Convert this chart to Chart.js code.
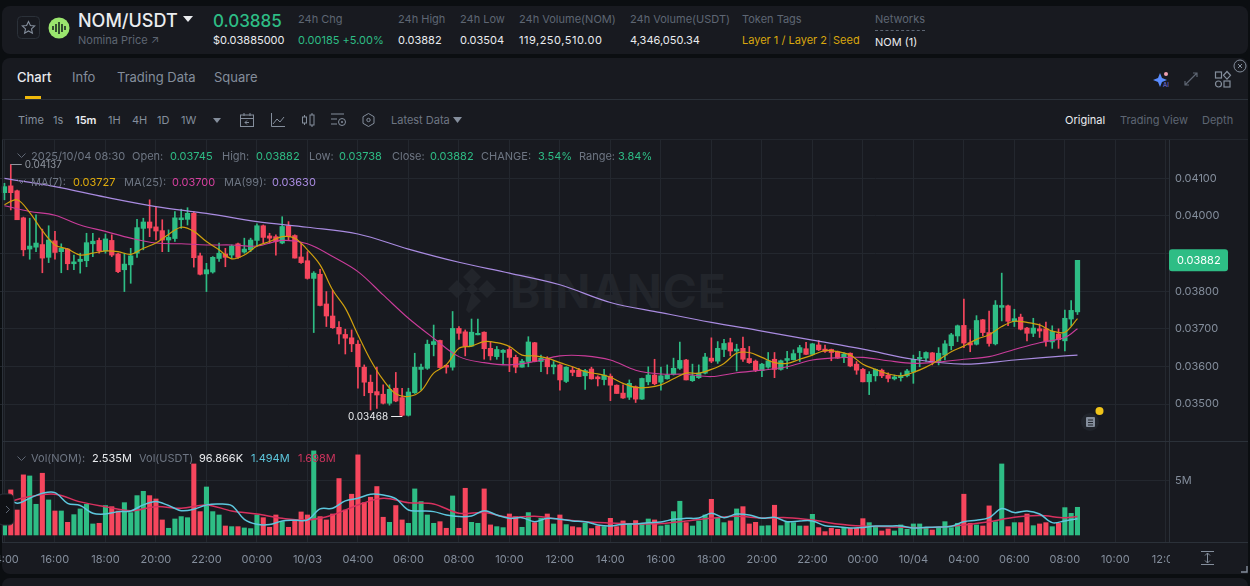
<!DOCTYPE html>
<html>
<head>
<meta charset="utf-8">
<title>NOM/USDT</title>
<script src="https://cdn.jsdelivr.net/npm/chart.js@4/dist/chart.umd.min.js"></script>
<style>
html, body { margin: 0; padding: 0; background: #0b0e11; width: 1250px; height: 586px; overflow: hidden; font-family: Inter, sans-serif; }
.panel { position: absolute; left: 2px; width: 1246px; background: #181a20; border-radius: 8px; }
.t { position: absolute; white-space: nowrap; font-size: 11px; line-height: 14px; color: #eaecef; }
.dim { color: #5e6673; }
.gray { color: #848e9c; }
.up { color: #2ebd85; }
.gold { color: #d8a70e; }
.line { position: absolute; background: #2b3139; }
svg { position: absolute; overflow: visible; }
#priceChart, #volChart { position: absolute; left: -5px; }
#priceChart { top: 140px; }
#volChart { top: 442px; }
#watermark { position: absolute; left: 510px; top: 264px; font-size: 46px; line-height: 54px; font-weight: 700; color: #22252b; letter-spacing: 1px; }
</style>
</head>
<body>
<div class="panel" style="top:6px;height:48px"></div>
<div class="panel" style="top:58px;height:516px"></div>
<div class="panel" style="top:578px;height:20px"></div>

<svg style="left:445px;top:268px" width="56" height="46" viewBox="0 0 56 46" fill="#22252b">
  <path d="M27 0l9 9-9 9-9-9zM27 24l9 9-12 12-3-3zM12 12l9 9-9 9-9-9zM42 12l9 9-9 9-9-9zM27 15l6 6-6 6-6-6z"/>
</svg>
<div id="watermark">BINANCE</div>

<canvas id="priceChart" width="1255" height="302"></canvas>
<canvas id="volChart" width="1255" height="133"></canvas>

<!-- right column cover so the last time label gets cut like in the app -->
<div style="position:absolute;left:1170px;top:543px;width:78px;height:31px;background:#181a20"></div>

<div class="line" style="left:2px;top:99px;width:1246px;height:1px"></div>
<div class="line" style="left:2px;top:139px;width:1246px;height:1px;background:#23272e"></div>
<div class="line" style="left:2px;top:441px;width:1246px;height:1px"></div>
<div class="line" style="left:2px;top:542px;width:1246px;height:1px"></div>
<div class="line" style="left:2px;top:140px;width:1px;height:402px"></div>

<!-- top bar -->
<svg style="left:17px;top:16px" width="23" height="23"><rect x="0.5" y="0.5" width="22" height="22" rx="4" fill="none" stroke="#2b3139"/><path d="M11.5 5.5l1.9 4 4.3.5-3.2 2.9.9 4.3-3.9-2.2-3.9 2.2.9-4.3-3.2-2.9 4.3-.5z" fill="none" stroke="#848e9c" stroke-width="1.1"/></svg>
<svg style="left:48px;top:17px" width="22" height="22"><circle cx="11" cy="11" r="10.5" fill="#9ae66e"/><path d="M5 9v4M8 7v8M11 5v12M14 7v8M17 9v4" stroke="#1a2a22" stroke-width="1.6"/></svg>
<div class="t" style="left:78px;top:10px;font-size:18px;line-height:22px;font-weight:500">NOM/USDT</div>
<svg style="left:183px;top:16px" width="10" height="6"><path d="M0 0h10L5 6z" fill="#eaecef"/></svg>
<div class="t dim" style="left:78px;top:33px">Nomina Price ↗</div>
<div class="t up" style="left:213px;top:10px;font-size:17px;line-height:22px;font-weight:500">0.03885</div>
<div class="t" style="left:213px;top:33px">$0.03885000</div>
<div class="t dim" style="left:298px;top:12px">24h Chg</div>
<div class="t up" style="left:298px;top:33px">0.00185 +5.00%</div>
<div class="t dim" style="left:398px;top:12px">24h High</div>
<div class="t" style="left:398px;top:33px">0.03882</div>
<div class="t dim" style="left:460px;top:12px">24h Low</div>
<div class="t" style="left:460px;top:33px">0.03504</div>
<div class="t dim" style="left:519px;top:12px">24h Volume(NOM)</div>
<div class="t" style="left:519px;top:33px;letter-spacing:0.5px">119,250,510.00</div>
<div class="t dim" style="left:630px;top:12px">24h Volume(USDT)</div>
<div class="t" style="left:630px;top:33px">4,346,050.34</div>
<div class="t dim" style="left:742px;top:12px">Token Tags</div>
<div class="t gold" style="left:742px;top:33px">Layer 1 / Layer 2</div>
<div class="t dim" style="left:828px;top:33px;color:#3a404a">|</div>
<div class="t gold" style="left:833px;top:33px">Seed</div>
<div class="t dim" style="left:875px;top:12px;border-bottom:1px dashed #5e6673;padding-bottom:4px">Networks</div>
<div class="t" style="left:875px;top:35px">NOM (1)</div>

<!-- tabs -->
<div class="t" style="left:17px;top:70px;font-size:13px;font-weight:500">Chart</div>
<div class="t gray" style="left:72px;top:70px;font-size:13px">Info</div>
<div class="t gray" style="left:117px;top:70px;font-size:13px">Trading Data</div>
<div class="t gray" style="left:214px;top:70px;font-size:13px">Square</div>
<div style="position:absolute;left:25px;top:96px;width:16px;height:3px;background:#f0b90b"></div>
<svg style="left:1153px;top:71px" width="18" height="18"><path d="M7 2l2 5 5 2-5 2-2 5-2-5-5-2 5-2z" fill="#5a8cff"/><circle cx="13" cy="3" r="2" fill="#f0a0b0"/><text x="10" y="16" font-size="6" fill="#7a7af0" font-family="Inter">AI</text></svg>
<svg style="left:1184px;top:72px" width="14" height="14"><path d="M1 13L13 1M9 1h4v4M1 9v4h4" fill="none" stroke="#5e6673" stroke-width="1.2"/></svg>
<svg style="left:1215px;top:71px" width="16" height="17"><rect x="0.5" y="1" width="6" height="6" fill="none" stroke="#848e9c" stroke-width="1.2"/><path d="M12 0.5l3.5 3.8-3.5 3.8-3.5-3.8z" fill="none" stroke="#848e9c" stroke-width="1.2"/><circle cx="3.5" cy="13" r="3" fill="none" stroke="#848e9c" stroke-width="1.2"/><rect x="9" y="10" width="6" height="6" fill="none" stroke="#848e9c" stroke-width="1.2"/></svg>
<svg style="left:1233px;top:59px" width="14" height="14"><circle cx="7" cy="7" r="6" fill="#181a20" stroke="#848e9c"/><path d="M5 5l4 4M9 5l-4 4" stroke="#848e9c"/></svg>

<!-- toolbar -->
<div class="t gray" style="left:18px;top:113px">Time</div>
<div class="t gray" style="left:53px;top:113px">1s</div>
<div class="t" style="left:75px;top:113px;font-weight:600">15m</div>
<div class="t gray" style="left:108px;top:113px">1H</div>
<div class="t gray" style="left:132px;top:113px">4H</div>
<div class="t gray" style="left:157px;top:113px">1D</div>
<div class="t gray" style="left:181px;top:113px">1W</div>
<svg style="left:213px;top:118px" width="8" height="5"><path d="M0 0h8L4 5z" fill="#848e9c"/></svg>
<svg style="left:240px;top:113px" width="14" height="14"><rect x="0.5" y="2" width="13" height="11.5" fill="none" stroke="#848e9c"/><path d="M0 5.5h14M4 0v3M10 0v3M9 9.5H5M7 7.5L5 9.5l2 2" fill="none" stroke="#848e9c"/></svg>
<svg style="left:271px;top:113px" width="14" height="14"><path d="M0.5 0v13.5H14M2 11l4-5 3 3 4-5" fill="none" stroke="#848e9c"/></svg>
<svg style="left:302px;top:113px" width="13" height="14"><rect x="0.5" y="4" width="4" height="6" fill="none" stroke="#848e9c"/><rect x="8" y="2" width="4" height="10" fill="none" stroke="#848e9c"/><path d="M2.5 2v2M2.5 10v2M10 0v2M10 12v2" stroke="#848e9c"/></svg>
<svg style="left:331px;top:113px" width="15" height="14"><path d="M0 1h13M0 6h6M0 11h6" stroke="#848e9c"/><circle cx="11" cy="9" r="3.5" fill="none" stroke="#848e9c"/><circle cx="11" cy="9" r="1" fill="#848e9c"/></svg>
<svg style="left:362px;top:113px" width="13" height="14"><path d="M6.5 0.5l5.5 3.2v6.6l-5.5 3.2L1 10.300V3.700z" fill="none" stroke="#848e9c"/><circle cx="6.500" cy="7" r="1.700" fill="none" stroke="#848e9c"/></svg>
<div class="t gray" style="left:391px;top:113px;color:#6e7683">Latest Data</div>
<svg style="left:453px;top:117px" width="9" height="6"><path d="M0 0h9L4.500 6z" fill="#848e9c"/></svg>
<div class="t" style="left:1065px;top:113px">Original</div>
<div class="t dim" style="left:1120px;top:113px">Trading View</div>
<div class="t dim" style="left:1202px;top:113px">Depth</div>

<!-- price legend -->
<svg style="left:17px;top:153px" width="9" height="5"><path d="M0.500 0.500L4.500 4.500 8.500 0.500" fill="none" stroke="#5e6673"/></svg>
<div class="t dim" style="left:31px;top:149px;color:#6e7683">2025/10/04 08:30</div>
<div class="t dim" style="left:132px;top:149px;color:#6e7683">Open:</div>
<div class="t up" style="left:170px;top:149px">0.03745</div>
<div class="t dim" style="left:222px;top:149px;color:#6e7683">High:</div>
<div class="t up" style="left:256px;top:149px">0.03882</div>
<div class="t dim" style="left:309px;top:149px;color:#6e7683">Low:</div>
<div class="t up" style="left:339px;top:149px">0.03738</div>
<div class="t dim" style="left:392px;top:149px;color:#6e7683">Close:</div>
<div class="t up" style="left:430px;top:149px">0.03882</div>
<div class="t dim" style="left:481px;top:149px;color:#6e7683">CHANGE:</div>
<div class="t up" style="left:538px;top:149px">3.54%</div>
<div class="t dim" style="left:579px;top:149px;color:#6e7683">Range:</div>
<div class="t up" style="left:618px;top:149px">3.84%</div>
<svg style="left:17px;top:179px" width="9" height="5"><path d="M0.500 0.500L4.500 4.500 8.500 0.500" fill="none" stroke="#5e6673"/></svg>
<div class="t dim" style="left:31px;top:175px;color:#6e7683">MA(7):</div>
<div class="t" style="left:73px;top:175px;color:#e0ac0c">0.03727</div>
<div class="t dim" style="left:124px;top:175px;color:#6e7683">MA(25):</div>
<div class="t" style="left:172px;top:175px;color:#d6409f">0.03700</div>
<div class="t dim" style="left:224px;top:175px;color:#6e7683">MA(99):</div>
<div class="t" style="left:272px;top:175px;color:#a98be0">0.03630</div>

<!-- volume legend -->
<svg style="left:17px;top:456px" width="9" height="5"><path d="M0.500 0.500L4.500 4.500 8.500 0.500" fill="none" stroke="#5e6673"/></svg>
<div class="t dim" style="left:31px;top:451px;color:#6e7683">Vol(NOM):</div>
<div class="t" style="left:92px;top:451px">2.535M</div>
<div class="t dim" style="left:139px;top:451px;color:#6e7683">Vol(USDT)</div>
<div class="t" style="left:199px;top:451px">96.866K</div>
<div class="t" style="left:251px;top:451px;color:#5dc7dd">1.494M</div>
<div class="t" style="left:298px;top:451px;color:#c9335c">1.698M</div>

<!-- small widgets on the panes -->
<svg style="left:1082px;top:405px" width="24" height="26"><circle cx="8" cy="17" r="9" fill="#20242b"/><rect x="4" y="12" width="9" height="10" rx="1" fill="#848e9c"/><path d="M6 15h5M6 17.500h5M6 20h5" stroke="#20242b"/><circle cx="17.500" cy="6" r="4" fill="#f0c419"/></svg>
<svg style="left:-2px;top:494px" width="17" height="32"><rect x="0" y="0" width="16" height="31" rx="5" fill="#0f1115" stroke="#2b3139"/><path d="M8 12l3.500 3.500L8 19" fill="none" stroke="#5e6673"/></svg>
<svg style="left:1201px;top:551px" width="14" height="14"><path d="M0 0.500h13M0 13.500h13M6.500 2v10M4 4.500l2.500-2.500 2.500 2.500M4 9.500l2.500 2.500 2.500-2.500" fill="none" stroke="#848e9c"/></svg>
<svg style="left:1241px;top:566px" width="7" height="7"><path d="M6 0v6H0" fill="none" stroke="#848e9c" stroke-width="1.400"/></svg>

<script>
// every 15m candle from 10/02 14:00 to 10/04 08:30
const openPrices = [
  0.04062,0.04080,0.04067,0.03995,0.03912,0.03917,0.03924,0.03890,0.03934,0.03905,
  0.03912,0.03873,0.03879,0.03881,0.03926,0.03935,0.03907,0.03935,0.03899,0.03857,
  0.03870,0.03901,0.03967,0.03984,0.03971,0.03961,0.03936,0.03940,0.03990,0.03991,
  0.04007,0.03894,0.03846,0.03851,0.03887,0.03899,0.03896,0.03926,0.03904,0.03910,
  0.03935,0.03974,0.03947,0.03945,0.03928,0.03974,0.03948,0.03891,0.03881,0.03834,
  0.03845,0.03766,0.03734,0.03704,0.03685,0.03676,0.03659,0.03598,0.03558,0.03533,
  0.03526,0.03502,0.03542,0.03517,0.03470,0.03530,0.03592,0.03595,0.03658,0.03669,
  0.03603,0.03598,0.03701,0.03692,0.03654,0.03684,0.03691,0.03648,0.03626,0.03637,
  0.03645,0.03624,0.03598,0.03613,0.03663,0.03613,0.03619,0.03599,0.03604,0.03560,
  0.03590,0.03590,0.03575,0.03593,0.03572,0.03565,0.03574,0.03550,0.03529,0.03518,
  0.03546,0.03513,0.03559,0.03577,0.03558,0.03567,0.03579,0.03595,0.03617,0.03562,
  0.03570,0.03582,0.03622,0.03614,0.03645,0.03663,0.03641,0.03648,0.03621,0.03614,
  0.03589,0.03598,0.03619,0.03592,0.03616,0.03618,0.03637,0.03647,0.03632,0.03657,
  0.03646,0.03645,0.03639,0.03624,0.03635,0.03606,0.03592,0.03559,0.03575,0.03590,
  0.03577,0.03567,0.03570,0.03575,0.03585,0.03620,0.03622,0.03636,0.03614,0.03630,
  0.03655,0.03681,0.03709,0.03663,0.03659,0.03724,0.03690,0.03660,0.03757,0.03761,
  0.03720,0.03731,0.03702,0.03688,0.03700,0.03700,0.03665,0.03686,0.03668,0.03726,0.03745
];
const highPrices = [
  0.04087,0.04137,0.04069,0.03997,0.03994,0.04003,0.03965,0.03974,0.03959,0.03926,
  0.03914,0.03896,0.03901,0.03954,0.03954,0.03941,0.03952,0.03950,0.03901,0.03901,
  0.03914,0.03991,0.03994,0.04043,0.04025,0.03990,0.03963,0.04012,0.04018,0.04022,
  0.04012,0.03901,0.03874,0.03892,0.03928,0.03914,0.03923,0.03928,0.03941,0.03941,
  0.03979,0.03976,0.03954,0.03950,0.03998,0.03985,0.03950,0.03928,0.03905,0.03852,
  0.03858,0.03799,0.03802,0.03719,0.03699,0.03697,0.03669,0.03604,0.03577,0.03598,
  0.03551,0.03551,0.03584,0.03542,0.03542,0.03635,0.03606,0.03670,0.03710,0.03670,
  0.03604,0.03746,0.03706,0.03697,0.03726,0.03726,0.03692,0.03666,0.03653,0.03645,
  0.03654,0.03630,0.03619,0.03679,0.03664,0.03630,0.03626,0.03613,0.03606,0.03599,
  0.03599,0.03595,0.03592,0.03598,0.03575,0.03592,0.03580,0.03551,0.03551,0.03564,
  0.03548,0.03569,0.03599,0.03619,0.03598,0.03604,0.03622,0.03665,0.03619,0.03606,
  0.03604,0.03635,0.03676,0.03666,0.03672,0.03675,0.03659,0.03678,0.03653,0.03617,
  0.03608,0.03637,0.03637,0.03617,0.03640,0.03644,0.03656,0.03664,0.03661,0.03669,
  0.03657,0.03646,0.03641,0.03637,0.03636,0.03613,0.03595,0.03586,0.03593,0.03593,
  0.03583,0.03577,0.03583,0.03592,0.03630,0.03640,0.03639,0.03637,0.03650,0.03669,
  0.03688,0.03710,0.03779,0.03697,0.03735,0.03725,0.03747,0.03775,0.03848,0.03763,
  0.03752,0.03739,0.03704,0.03728,0.03713,0.03718,0.03708,0.03700,0.03750,0.03775,0.03882
];
const lowPrices = [
  0.04043,0.04016,0.03990,0.03894,0.03885,0.03905,0.03849,0.03876,0.03885,0.03849,
  0.03857,0.03857,0.03848,0.03865,0.03892,0.03901,0.03901,0.03892,0.03849,0.03799,
  0.03821,0.03890,0.03910,0.03945,0.03936,0.03905,0.03905,0.03932,0.03967,0.03976,
  0.03864,0.03843,0.03799,0.03848,0.03879,0.03865,0.03888,0.03887,0.03901,0.03905,
  0.03919,0.03928,0.03928,0.03896,0.03926,0.03936,0.03888,0.03874,0.03832,0.03690,
  0.03761,0.03706,0.03701,0.03660,0.03633,0.03639,0.03542,0.03522,0.03484,0.03488,
  0.03500,0.03497,0.03506,0.03468,0.03468,0.03528,0.03537,0.03592,0.03628,0.03595,
  0.03582,0.03590,0.03672,0.03628,0.03653,0.03684,0.03619,0.03617,0.03619,0.03606,
  0.03586,0.03583,0.03598,0.03599,0.03612,0.03586,0.03580,0.03580,0.03537,0.03557,
  0.03575,0.03573,0.03539,0.03566,0.03548,0.03551,0.03509,0.03528,0.03515,0.03512,
  0.03504,0.03512,0.03551,0.03551,0.03537,0.03566,0.03577,0.03592,0.03564,0.03560,
  0.03568,0.03580,0.03610,0.03608,0.03626,0.03628,0.03588,0.03613,0.03608,0.03586,
  0.03573,0.03595,0.03570,0.03590,0.03594,0.03617,0.03613,0.03631,0.03630,0.03642,
  0.03637,0.03615,0.03621,0.03610,0.03599,0.03579,0.03559,0.03525,0.03561,0.03570,
  0.03559,0.03564,0.03561,0.03572,0.03555,0.03599,0.03613,0.03604,0.03604,0.03617,
  0.03644,0.03666,0.03650,0.03639,0.03657,0.03681,0.03654,0.03657,0.03721,0.03708,
  0.03706,0.03697,0.03668,0.03679,0.03677,0.03654,0.03648,0.03648,0.03641,0.03708,0.03738
];
const closePrices = [
  0.04078,0.04062,0.03990,0.03910,0.03920,0.03928,0.03888,0.03936,0.03903,0.03914,
  0.03873,0.03878,0.03885,0.03929,0.03933,0.03907,0.03939,0.03896,0.03852,0.03872,
  0.03894,0.03969,0.03984,0.03968,0.03960,0.03936,0.03943,0.03995,0.03995,0.04007,
  0.03889,0.03845,0.03857,0.03890,0.03901,0.03890,0.03920,0.03890,0.03912,0.03936,
  0.03974,0.03943,0.03941,0.03932,0.03972,0.03945,0.03888,0.03876,0.03834,0.03848,
  0.03762,0.03734,0.03703,0.03686,0.03675,0.03660,0.03599,0.03558,0.03530,0.03524,
  0.03502,0.03539,0.03508,0.03470,0.03532,0.03598,0.03598,0.03659,0.03666,0.03597,
  0.03598,0.03701,0.03688,0.03653,0.03691,0.03688,0.03647,0.03628,0.03645,0.03643,
  0.03624,0.03598,0.03614,0.03665,0.03613,0.03622,0.03599,0.03604,0.03564,0.03598,
  0.03584,0.03573,0.03589,0.03567,0.03567,0.03577,0.03550,0.03528,0.03516,0.03555,
  0.03513,0.03568,0.03577,0.03554,0.03575,0.03577,0.03595,0.03616,0.03564,0.03575,
  0.03582,0.03625,0.03614,0.03648,0.03661,0.03641,0.03646,0.03619,0.03610,0.03590,
  0.03606,0.03615,0.03592,0.03615,0.03621,0.03634,0.03650,0.03632,0.03660,0.03644,
  0.03640,0.03637,0.03622,0.03633,0.03601,0.03590,0.03559,0.03579,0.03592,0.03575,
  0.03568,0.03572,0.03575,0.03588,0.03619,0.03624,0.03637,0.03614,0.03635,0.03660,
  0.03684,0.03708,0.03662,0.03657,0.03722,0.03690,0.03661,0.03763,0.03762,0.03720,
  0.03727,0.03699,0.03688,0.03702,0.03694,0.03667,0.03693,0.03671,0.03728,0.03749,0.03882
];

// volume per candle, in millions
const volumes = [
  1.23,4.17,2.31,5.56,5.46,2.84,5.71,3.24,2.22,2.22,
  1.17,1.88,2.41,2.84,1.02,1.08,2.72,2.62,2.22,2.99,
  2.07,3.64,4.04,3.64,3.33,1.39,0.62,1.48,1.70,1.60,
  6.57,2.16,4.44,2.16,1.85,0.83,0.77,0.77,0.65,0.59,
  1.85,1.60,0.71,1.85,1.23,0.71,1.39,2.13,1.85,7.78,
  1.70,1.39,1.94,5.22,2.31,3.77,7.41,2.99,3.49,4.48,
  1.64,1.17,2.72,1.39,1.08,4.26,3.09,1.85,1.08,1.23,
  0.62,3.61,0.62,4.32,1.17,1.08,4.26,0.93,0.77,0.68,
  1.94,1.70,0.71,2.07,1.14,1.54,1.94,1.02,1.85,0.96,
  0.77,0.68,1.08,0.59,0.83,0.77,1.54,0.77,1.30,1.08,
  1.33,1.08,1.48,1.39,0.83,0.93,2.16,3.12,1.14,0.83,
  1.30,1.85,3.30,1.54,1.14,1.30,2.41,2.62,1.02,1.17,
  0.83,0.86,2.75,0.86,1.23,1.14,0.83,0.83,1.91,0.68,
  0.31,0.62,0.52,0.71,0.62,0.62,1.51,1.14,0.77,0.37,
  0.56,0.37,0.93,0.52,1.02,1.02,0.71,0.46,0.71,1.23,
  0.68,1.08,3.77,1.08,0.93,0.83,2.69,1.23,6.57,0.77,
  1.14,1.14,1.94,0.86,1.02,1.14,0.77,1.08,2.53,2.00,2.56
];

// moving averages, read every few candles (the last value is the last candle)
const ma7Step = 2;
const ma7Values = [
  0.04030,0.04043,0.04009,0.03961,0.03923,0.03912,0.03896,0.03901,0.03907,0.03905,
  0.03898,0.03914,0.03928,0.03951,0.03970,0.03959,0.03932,0.03910,0.03886,0.03896,
  0.03920,0.03932,0.03945,0.03941,0.03910,0.03870,0.03803,0.03755,0.03684,0.03617,
  0.03564,0.03527,0.03520,0.03535,0.03582,0.03604,0.03648,0.03654,0.03666,0.03663,
  0.03653,0.03630,0.03628,0.03622,0.03610,0.03599,0.03586,0.03580,0.03571,0.03555,
  0.03544,0.03544,0.03551,0.03567,0.03582,0.03582,0.03592,0.03608,0.03635,0.03637,
  0.03624,0.03610,0.03608,0.03619,0.03630,0.03642,0.03639,0.03630,0.03606,0.03592,
  0.03580,0.03575,0.03584,0.03598,0.03617,0.03639,0.03654,0.03672,0.03684,0.03706,
  0.03720,0.03717,0.03710,0.03694,0.03691,0.03727
];
const ma25Step = 4;
const ma25Values = [
  0.04027,0.04012,0.04002,0.03976,0.03959,0.03941,0.03928,0.03926,0.03923,0.03923,
  0.03920,0.03935,0.03926,0.03892,0.03852,0.03790,0.03728,0.03675,0.03626,0.03610,
  0.03604,0.03613,0.03628,0.03628,0.03617,0.03590,0.03580,0.03579,0.03573,0.03583,
  0.03590,0.03599,0.03617,0.03623,0.03624,0.03615,0.03608,0.03612,0.03619,0.03626,
  0.03645,0.03663,0.03677,0.03700
];
const ma99Step = 8;
const ma99Values = [
  0.04100,0.04078,0.04050,0.04025,0.04007,0.03985,0.03970,0.03952,0.03912,0.03877,
  0.03848,0.03817,0.03770,0.03743,0.03717,0.03694,0.03670,0.03646,0.03619,0.03606,
  0.03617,0.03628,0.03630
];
const volFastStep = 2;
const volFastValues = [
  3.61,2.93,3.40,3.86,3.92,2.93,2.72,2.01,1.94,2.16,
  2.22,2.78,3.09,2.72,2.25,2.38,2.78,2.87,2.72,1.45,
  0.99,0.96,1.30,1.36,1.39,2.41,2.47,3.15,3.40,3.77,
  3.70,3.36,2.31,2.22,2.16,1.85,1.70,1.76,2.25,1.85,
  1.54,1.60,1.23,1.54,1.45,1.30,1.23,0.93,0.83,0.99,
  1.02,1.14,1.20,1.45,1.54,1.57,2.01,1.60,1.94,1.85,
  1.54,1.64,1.23,1.30,1.30,0.86,0.77,0.65,0.68,0.83,
  0.83,0.83,0.65,0.71,0.74,0.80,1.23,1.36,1.60,2.44,
  2.07,2.22,1.94,1.14,1.30,1.49
];
const volSlowStep = 4;
const volSlowValues = [
  2.93,3.55,3.77,3.06,2.62,2.25,2.62,2.47,2.78,2.22,
  1.94,1.54,1.39,1.85,2.78,3.40,2.99,2.87,2.01,2.07,
  1.64,1.73,1.45,1.23,1.11,1.02,1.05,1.30,1.54,1.73,
  1.57,1.60,1.39,1.02,0.83,0.77,0.68,0.71,0.93,1.23,
  1.64,1.79,1.60,1.70
];

// axis labels, one every 8 slots (2 hours)
const timeTicks = ["14:00","16:00","18:00","20:00","22:00","00:00","10/03","04:00","06:00","08:00","10:00","12:00","14:00","16:00","18:00","20:00","22:00","00:00","10/04","04:00","06:00","08:00","10:00","12:00"];
const priceTicks = [0.035, 0.036, 0.037, 0.038, 0.039, 0.04, 0.041];
const volumeTicks = [5];

// pane ranges and layout
const PRICE_MIN = 0.03399, PRICE_MAX = 0.04202;
const VOL_MIN = -0.65, VOL_MAX = 8.6;
const SLOT_COUNT = 186;   // one empty slot before the first candle, empty ones after the last
const AXIS_WIDTH = 81;
const UP_COLOR = '#2ebd85', DOWN_COLOR = '#f6465d';
const GRID_COLOR = '#23272e', BORDER_COLOR = '#2b3139', TICK_COLOR = '#848e9c';

Chart.defaults.font.family = 'Inter, sans-serif';
Chart.defaults.font.size = 11;
Chart.defaults.animation = false;

const slotLabels = [];
for (let s = 0; s < SLOT_COUNT; s++) {
    slotLabels.push((s - 1) % 8 === 0 && timeTicks[(s - 1) / 8] ? timeTicks[(s - 1) / 8] : '');
}

const lastCandle = openPrices.length - 1;
const candleColors = openPrices.map((o, i) => closePrices[i] >= o ? UP_COLOR : DOWN_COLOR);

// candle index i sits in slot i + 1
function toSlots(values) {
    const out = new Array(SLOT_COUNT).fill(null);
    values.forEach((v, i) => { out[i + 1] = v; });
    return out;
}

function toSlotsEvery(values, step) {
    const out = new Array(SLOT_COUNT).fill(null);
    values.forEach((v, k) => { out[Math.min(k * step, lastCandle) + 1] = v; });
    return out;
}

function lineSet(label, values, step, color, width) {
    return {
        type: 'line',
        label: label,
        data: toSlotsEvery(values, step),
        borderColor: color,
        borderWidth: width,
        pointRadius: 0,
        spanGaps: true,
        tension: 0.35,
        order: 0
    };
}

// the scales would keep room for half a label at each end, we want the plot edge to edge
function noPadding(scale) {
    scale.paddingLeft = scale.paddingRight = scale.paddingTop = scale.paddingBottom = 0;
}

function timeAxis(showLabels, axisHeight) {
    return {
        offset: true,
        grid: { color: GRID_COLOR, offset: false, drawTicks: false },
        border: { display: false },
        afterBuildTicks: scale => {
            scale.ticks = scale.ticks.filter(t => slotLabels[t.value] !== '');
        },
        afterFit: scale => {
            noPadding(scale);
            scale.height = axisHeight;
        },
        ticks: {
            display: showLabels,
            autoSkip: false,
            maxRotation: 0,
            padding: 11,
            color: TICK_COLOR,
            callback: function (value) { return slotLabels[value]; }
        }
    };
}

// high and low markers plus the last price tag
const priceMarks = {
    id: 'priceMarks',
    afterDatasetsDraw(chart) {
        const ctx = chart.ctx, x = chart.scales.x, y = chart.scales.y;
        const highIdx = highPrices.indexOf(Math.max(...highPrices));
        const lowIdx = lowPrices.indexOf(Math.min(...lowPrices));
        ctx.save();
        ctx.font = '10px Inter, sans-serif';
        ctx.textBaseline = 'middle';
        ctx.lineWidth = 1;

        let px = x.getPixelForValue(highIdx + 1), py = Math.round(y.getPixelForValue(highPrices[highIdx])) + 0.5;
        ctx.strokeStyle = ctx.fillStyle = '#8f959e';
        ctx.beginPath(); ctx.moveTo(px, py); ctx.lineTo(px + 11, py); ctx.stroke();
        ctx.textAlign = 'left';
        ctx.fillText(highPrices[highIdx].toFixed(5), px + 14, py);

        px = x.getPixelForValue(lowIdx + 1); py = Math.round(y.getPixelForValue(lowPrices[lowIdx])) + 0.5;
        ctx.strokeStyle = ctx.fillStyle = '#eaecef';
        ctx.beginPath(); ctx.moveTo(px, py); ctx.lineTo(px - 11, py); ctx.stroke();
        ctx.textAlign = 'right';
        ctx.fillText(lowPrices[lowIdx].toFixed(5), px - 14, py);

        const last = closePrices[lastCandle];
        const tagY = y.getPixelForValue(last), tagX = chart.chartArea.right;
        ctx.fillStyle = UP_COLOR;
        ctx.beginPath();
        ctx.roundRect(tagX, tagY - 11, 59, 22, 3);
        ctx.fill();
        ctx.fillStyle = '#ffffff';
        ctx.font = '11px Inter, sans-serif';
        ctx.textAlign = 'left';
        ctx.fillText(last.toFixed(5), tagX + 8, tagY);
        ctx.restore();
    }
};

new Chart(document.getElementById('priceChart'), {
    type: 'bar',
    data: {
        labels: slotLabels,
        datasets: [
            lineSet('MA(7)', ma7Values, ma7Step, '#d0a00e', 1.2),
            lineSet('MA(25)', ma25Values, ma25Step, '#c93c99', 1.1),
            lineSet('MA(99)', ma99Values, ma99Step, '#a98be0', 1.2),
            {
                label: 'Body',
                data: toSlots(openPrices.map((o, i) => [o, closePrices[i]])),
                backgroundColor: [null].concat(candleColors),
                barThickness: 4.6,
                grouped: false,
                order: 1
            },
            {
                label: 'Wick',
                data: toSlots(highPrices.map((h, i) => [lowPrices[i], h])),
                backgroundColor: [null].concat(candleColors),
                barThickness: 1,
                grouped: false,
                order: 2
            }
        ]
    },
    options: {
        responsive: false,
        events: [],
        layout: { padding: 0 },
        plugins: { legend: { display: false }, tooltip: { enabled: false } },
        scales: {
            x: timeAxis(false, 0),
            y: {
                position: 'right',
                min: PRICE_MIN,
                max: PRICE_MAX,
                afterBuildTicks: scale => { scale.ticks = priceTicks.map(v => ({ value: v })); },
                afterFit: scale => { noPadding(scale); scale.width = AXIS_WIDTH; },
                grid: { color: GRID_COLOR, drawTicks: false },
                border: { color: BORDER_COLOR },
                ticks: {
                    padding: 6,
                    color: TICK_COLOR,
                    // the 0.039 label sits under the last price tag
                    callback: v => v === 0.039 ? '' : v.toFixed(5)
                }
            }
        }
    },
    plugins: [priceMarks]
});

new Chart(document.getElementById('volChart'), {
    type: 'bar',
    data: {
        labels: slotLabels,
        datasets: [
            lineSet('Vol MA fast', volFastValues, volFastStep, '#5dc7dd', 1.5),
            lineSet('Vol MA slow', volSlowValues, volSlowStep, '#d8315f', 1.5),
            {
                label: 'Vol(NOM)',
                data: toSlots(volumes),
                backgroundColor: [null].concat(candleColors),
                barThickness: 4.4,
                grouped: false,
                order: 1
            }
        ]
    },
    options: {
        responsive: false,
        events: [],
        layout: { padding: 0 },
        plugins: { legend: { display: false }, tooltip: { enabled: false } },
        scales: {
            x: timeAxis(true, 33),
            y: {
                position: 'right',
                min: VOL_MIN,
                max: VOL_MAX,
                afterBuildTicks: scale => { scale.ticks = volumeTicks.map(v => ({ value: v })); },
                afterFit: scale => { noPadding(scale); scale.width = AXIS_WIDTH; },
                grid: { color: GRID_COLOR, drawTicks: false },
                border: { color: BORDER_COLOR },
                ticks: { padding: 6, color: TICK_COLOR, callback: v => v + 'M' }
            }
        }
    }
});
</script>
</body>
</html>
